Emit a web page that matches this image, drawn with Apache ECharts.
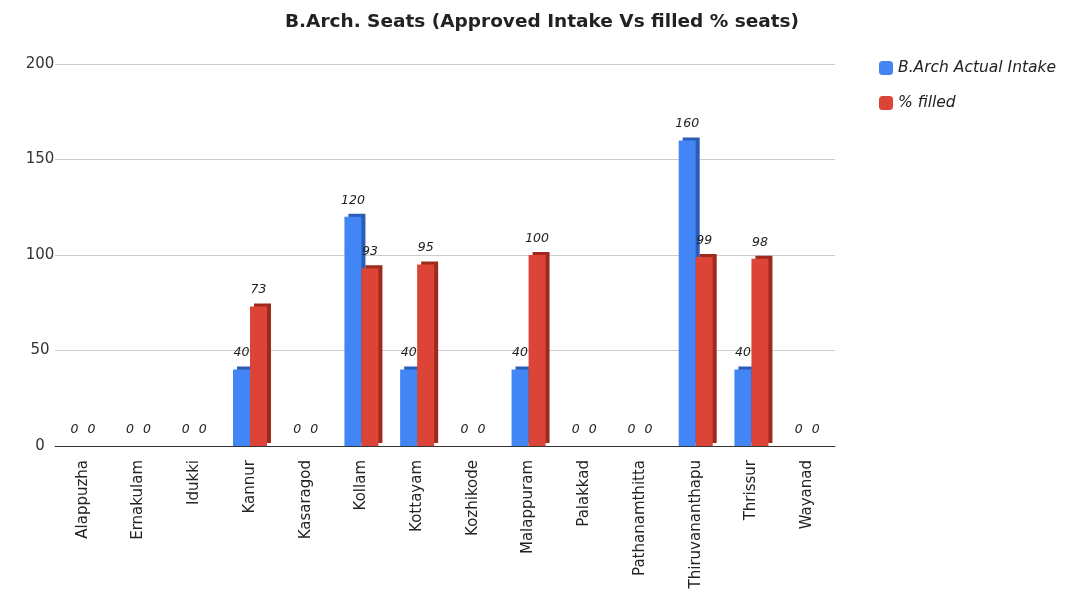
<!DOCTYPE html>
<html lang="en">
<head>
    <meta charset="UTF-8">
    <title>B.Arch. Seats</title>
    <script src="https://cdn.jsdelivr.net/npm/echarts@6/dist/echarts.min.js"></script>
    <style>
        html, body { margin: 0; padding: 0; background: #fff; }
        #chart { width: 1068px; height: 594px; }
    </style>
</head>
<body>
    <div id="chart"></div>
    <script type="text/javascript">
        var districts = ['Alappuzha', 'Ernakulam', 'Idukki', 'Kannur', 'Kasaragod', 'Kollam', 'Kottayam',
            'Kozhikode', 'Malappuram', 'Palakkad', 'Pathanamthitta', 'Thiruvananthapu', 'Thrissur', 'Wayanad'];
        var actualIntake = [0, 0, 0, 40, 0, 120, 40, 0, 40, 0, 0, 160, 40, 0];
        var pctFilled = [0, 0, 0, 73, 0, 93, 95, 0, 100, 0, 0, 99, 98, 0];
        var yTicks = [0, 50, 100, 150, 200];

        var font = 'DejaVu Sans';

        // label above each bar, italic like the original
        var barLabel = {
            show: true,
            position: 'top',
            distance: 10,
            fontStyle: 'italic',
            fontFamily: font,
            fontSize: 12.5,
            color: '#222'
        };

        var myChart = echarts.init(document.getElementById('chart'));
        myChart.setOption({
            animation: false,
            title: {
                text: 'B.Arch. Seats (Approved Intake Vs filled % seats)',
                left: 537,
                top: 8,
                textAlign: 'center',
                textStyle: { fontFamily: font, fontSize: 18.5, fontWeight: 'bold', color: '#222' }
            },
            legend: {
                orient: 'vertical',
                left: 874,
                top: 55,
                itemWidth: 14,
                itemHeight: 14,
                itemGap: 19,
                icon: 'roundRect',
                textStyle: { fontFamily: font, fontSize: 15.5, fontStyle: 'italic', color: '#222' },
                data: ['B.Arch Actual Intake', '% filled']
            },
            grid: { left: 55, right: 233, top: 64, bottom: 148 },
            xAxis: {
                type: 'category',
                data: districts,
                axisTick: { show: false },
                axisLine: { lineStyle: { color: '#333' } },
                axisLabel: { rotate: 90, fontFamily: font, fontSize: 15, color: '#222', margin: 14 }
            },
            yAxis: {
                type: 'value',
                min: yTicks[0],
                max: yTicks[yTicks.length - 1],
                interval: 50,
                axisLabel: { fontFamily: font, fontSize: 15, color: '#333', margin: 15, align: 'center' },
                splitLine: { lineStyle: { color: '#ccc' } }
            },
            series: [
                {
                    name: 'B.Arch Actual Intake',
                    type: 'bar',
                    data: actualIntake,
                    barWidth: 17,
                    barGap: '0%',
                    itemStyle: {
                        color: '#4285f4',
                        shadowColor: '#2b5cb8',
                        shadowOffsetX: 4,
                        shadowOffsetY: -3,
                        shadowBlur: 0
                    },
                    label: barLabel
                },
                {
                    name: '% filled',
                    type: 'bar',
                    data: pctFilled,
                    barWidth: 17,
                    itemStyle: {
                        color: '#db4437',
                        shadowColor: '#9e2a1e',
                        shadowOffsetX: 4,
                        shadowOffsetY: -3,
                        shadowBlur: 0
                    },
                    label: barLabel
                }
            ]
        });
    </script>
</body>
</html>
